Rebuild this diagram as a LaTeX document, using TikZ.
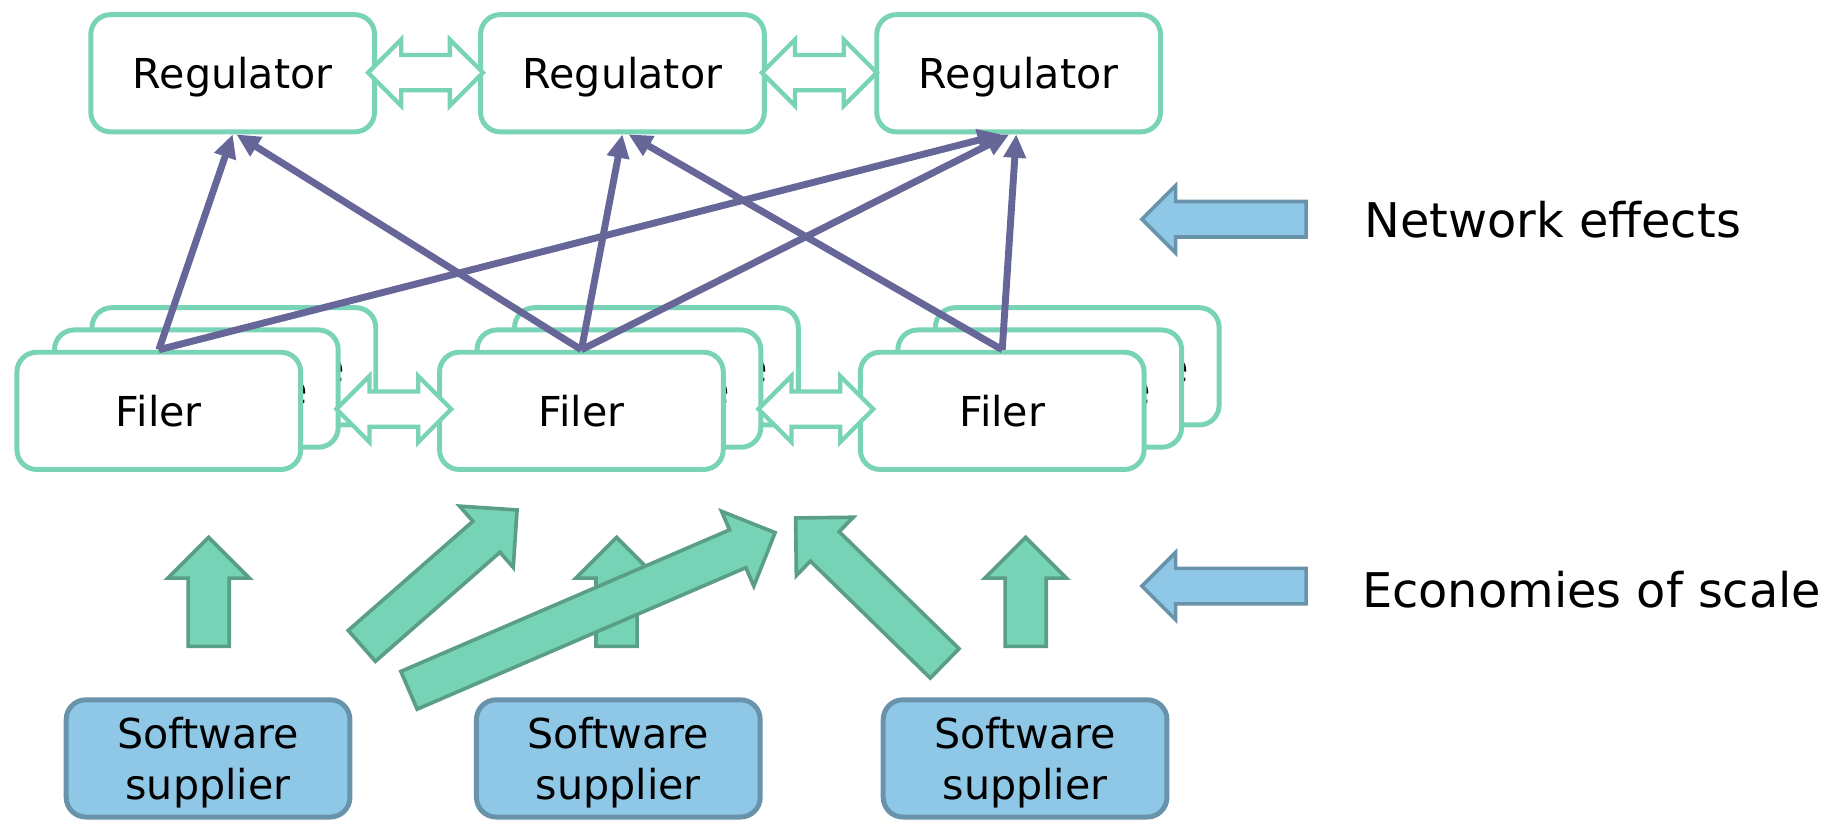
\documentclass[tikz,border=0pt]{standalone}
\usepackage{fontspec}
\setmainfont{DejaVu Sans}
\usetikzlibrary{shapes.arrows,arrows.meta,positioning}

\definecolor{boxgreen}{HTML}{79D3B6}
\definecolor{pushgreen}{HTML}{76D3B5}
\definecolor{pushedge}{HTML}{5A9E85}
\definecolor{linkpurple}{HTML}{666699}
\definecolor{supblue}{HTML}{8FC8E6}
\definecolor{supedge}{HTML}{6893AB}

\tikzset{
  agent/.style={draw=boxgreen, line width=3pt, fill=white, rounded corners=0.42cm, minimum width=6.05cm, minimum height=2.5cm, inner sep=0pt, text depth=0pt, font=\fontsize{25}{31}\selectfont},
  supplier/.style={agent, draw=supedge, fill=supblue, align=center},
  peek/.style={inner sep=0pt, anchor=east, font=\fontsize{25}{31}\selectfont},
  link/.style={double arrow, draw=boxgreen, fill=white, line width=2.6pt, minimum height=2.45cm, double arrow head extend=0.33cm, inner xsep=0pt, inner ysep=0.33cm},
  push/.style={single arrow, draw=pushedge, fill=pushgreen, line width=2.2pt, single arrow head extend=0.43cm, inner xsep=0pt, inner ysep=0.4cm, anchor=tail},
  legendarrow/.style={single arrow, draw=supedge, fill=supblue, line width=2.2pt, minimum height=3.5cm, single arrow head extend=0.34cm, inner xsep=0pt, inner ysep=0.34cm, anchor=tip, rotate=180},
  effect/.style={-{Triangle[length=0.5cm,width=0.46cm]}, line width=4.2pt, draw=linkpurple},
  legend/.style={anchor=west, inner sep=0pt, font=\fontsize{29}{35}\selectfont}
}

\begin{document}
\begin{tikzpicture}[x=0.025cm, y=-0.025cm]
    \useasboundingbox (0,0) rectangle (1568,699);

    \node[agent] (r1) at (198.5,62.5) {Regulator};
    \node[agent] (r2) at (531,62.5) {Regulator};
    \node[agent] (r3) at (869,62.5) {Regulator};

    \node[agent] (f1b) at (199.5,312.5) {};
    \node[peek] (f1be) at ([xshift=-0.7cm,yshift=-0.1cm]f1b.east) {e};
    \node[agent] (f1m) at (167.5,331.5) {};
    \node[peek] (f1me) at ([xshift=-0.7cm,yshift=-0.1cm]f1m.east) {e};
    \node[agent] (f1) at (135.5,350.5) {Filer};

    \node[agent] (f2b) at (560,312.5) {};
    \node[peek] (f2be) at ([xshift=-0.7cm,yshift=-0.1cm]f2b.east) {e};
    \node[agent] (f2m) at (528,331.5) {};
    \node[peek] (f2me) at ([xshift=-0.7cm,yshift=-0.1cm]f2m.east) {e};
    \node[agent] (f2) at (496,350.5) {Filer};

    \node[agent] (f3b) at (919,312.5) {};
    \node[peek] (f3be) at ([xshift=-0.7cm,yshift=-0.1cm]f3b.east) {e};
    \node[agent] (f3m) at (887,331.5) {};
    \node[peek] (f3me) at ([xshift=-0.7cm,yshift=-0.1cm]f3m.east) {e};
    \node[agent] (f3) at (855,350.5) {Filer};

    \node[link] (rl1) at (363,62) {};
    \node[link] (rl2) at (699,62) {};
    \node[link] (fl1) at (336,349) {};
    \node[link] (fl2) at (696,349) {};

    \draw[effect] (f1.north) -- (r1.south);
    \draw[effect] (f1.north) -- ([xshift=-0.375cm]r3.south);
    \draw[effect] (f2.north) -- ([xshift=0.08cm]r1.south);
    \draw[effect] (f2.north) -- (r2.south);
    \draw[effect] (f2.north) -- ([xshift=-0.2cm]r3.south);
    \draw[effect] (f3.north) -- ([xshift=0.13cm]r2.south);
    \draw[effect] (f3.north) -- ([xshift=-0.05cm]r3.south);

    \node[supplier] (s1) at (177.5,647) {Software\\supplier};
    \node[supplier] (s2) at (527.5,647) {Software\\supplier};
    \node[supplier] (s3) at (874.5,647) {Software\\supplier};

    \node[push, minimum height=2.325cm, rotate=90] (u1) at (178,553) {};
    \node[push, minimum height=2.325cm, rotate=90] (u2) at (526,553) {};
    \node[push, minimum height=2.325cm, rotate=90] (u3) at (875,553) {};
    \node[push, minimum height=4.4cm, rotate=41.2] (d1) at (307.5,552) {};
    \node[push, minimum height=8.5cm, rotate=23.3] (d2) at (347.5,589.5) {};
    \node[push, minimum height=4.44cm, rotate=135.7] (d3) at (807,567) {};

    \node[legendarrow] (na) at (972,187) {};
    \node[legend, right=1.2cm of na.tail] (net) {Network effects};
    \node[legendarrow] (ea) at (972,500) {};
    \node[legend, right=1.15cm of ea.tail, yshift=-0.07cm] (eco) {Economies of scale};
\end{tikzpicture}
\end{document}
